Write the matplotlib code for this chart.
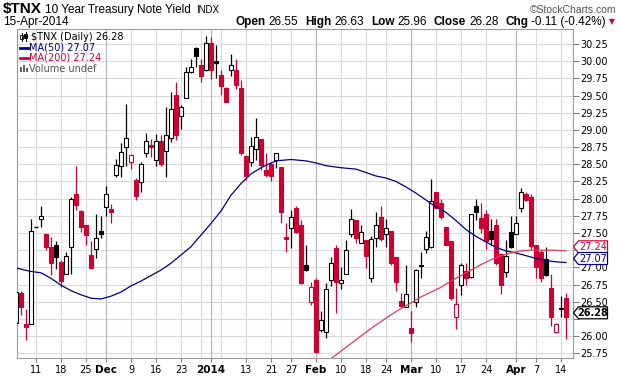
import numpy as np
import pandas as pd
import matplotlib
matplotlib.use("Agg")
import matplotlib.pyplot as plt
from matplotlib.patches import Rectangle, Polygon
from matplotlib.lines import Line2D
from matplotlib.transforms import IdentityTransform

# ---------------- data ----------------
start_date = "2013-11-05"
end_date = "2014-04-15"
holidays = ["2013-11-28", "2013-12-25", "2014-01-01", "2014-01-20", "2014-02-17"]

opens = [26.19, 26.62, 26.17, 26.18, 27.58, 27.70, 27.48, 27.30, 27.33, 27.08,
         26.91, 27.29, 28.07, 27.82, 27.61, 27.18, 27.26, 27.53, 27.88, 27.85,
         28.35, 28.48, 28.75, 28.53, 28.27, 28.24, 28.66, 28.78, 28.56, 28.84,
         28.69, 28.89, 29.51, 29.21, 29.47, 29.84, 30.20, 29.94, 29.88, 30.27,
         30.00, 29.80, 29.61, 29.87, 29.88, 29.61, 28.62, 28.54, 28.72, 28.87,
         28.42, 28.51, 28.57, 28.46, 27.44, 27.57, 27.86, 27.62, 27.04, 26.50,
         26.82, 26.09, 26.06, 26.81, 27.28, 26.77, 26.91, 27.49, 27.69, 27.36,
         27.40, 26.85, 27.42, 27.73, 27.49, 27.53, 27.15, 26.51, 26.42, 26.11,
         26.49, 27.04, 27.26, 27.30, 28.09, 27.93, 27.58, 27.38, 26.27, 26.75,
         26.95, 26.86, 27.89, 27.72, 27.78, 27.53, 27.62, 27.20, 26.93, 27.51,
         27.49, 27.86, 28.07, 28.02, 27.32, 27.22, 27.12, 26.70, 26.06, 26.41,
         26.55]
highs = [26.66, 26.65, 26.40, 27.70, 27.58, 27.89, 27.49, 27.44, 27.39, 27.11,
         27.22, 28.03, 28.47, 27.83, 27.62, 27.38, 27.77, 27.75, 28.19, 27.92,
         28.58, 28.81, 29.38, 28.65, 28.30, 28.54, 28.95, 28.87, 28.94, 28.93,
         29.34, 29.56, 29.70, 29.36, 29.92, 30.04, 30.21, 30.04, 30.37, 30.35,
         30.24, 29.87, 29.62, 30.11, 30.03, 29.73, 28.63, 28.90, 29.18, 28.87,
         28.67, 28.54, 28.67, 28.46, 27.65, 27.83, 27.89, 27.69, 27.33, 26.78,
         26.84, 26.36, 26.77, 27.15, 27.33, 27.00, 27.40, 27.85, 27.69, 27.62,
         27.40, 27.45, 27.81, 27.89, 27.70, 27.53, 27.15, 26.63, 27.03, 26.36,
         26.98, 27.23, 27.53, 28.28, 28.10, 27.99, 27.58, 27.38, 26.70, 27.06,
         27.06, 27.78, 28.00, 27.93, 27.84, 27.71, 27.71, 27.21, 27.40, 27.75,
         27.75, 28.15, 28.09, 28.07, 27.33, 27.25, 27.29, 26.90, 26.19, 26.58,
         26.63]
lows = [26.15, 26.31, 25.94, 26.18, 27.58, 27.58, 27.25, 26.89, 26.98, 26.72,
        26.90, 26.91, 27.83, 27.52, 27.33, 26.98, 27.14, 27.42, 27.75, 27.65,
        28.31, 28.32, 28.48, 28.43, 27.98, 28.10, 28.60, 28.61, 28.47, 28.47,
        28.31, 28.83, 28.85, 29.02, 29.47, 29.83, 29.92, 29.70, 29.86, 29.74,
        29.75, 29.51, 29.40, 29.78, 29.59, 28.63, 28.27, 28.47, 28.56, 28.42,
        28.32, 28.26, 28.44, 27.65, 27.22, 27.28, 27.50, 26.76, 26.95, 26.45,
        25.75, 26.06, 25.97, 26.73, 26.34, 26.69, 26.90, 27.44, 27.35, 27.36,
        26.99, 26.78, 27.30, 27.39, 27.30, 27.03, 26.66, 26.42, 26.42, 25.92,
        26.42, 26.84, 27.21, 27.28, 27.86, 27.70, 27.32, 26.53, 26.10, 26.60,
        26.74, 26.85, 27.69, 27.50, 27.26, 27.33, 27.03, 26.61, 26.86, 27.28,
        27.49, 27.81, 27.96, 27.26, 26.85, 26.79, 26.87, 26.14, 26.04, 26.28,
        25.96]
closes = [26.64, 26.42, 26.13, 27.53, 27.58, 27.75, 27.30, 27.07, 27.15, 26.80,
          27.17, 27.99, 27.91, 27.58, 27.47, 26.99, 27.42, 27.48, 28.07, 27.81,
          28.49, 28.68, 28.89, 28.64, 28.04, 28.51, 28.84, 28.75, 28.84, 28.50,
          28.92, 29.30, 28.93, 29.34, 29.85, 29.92, 30.07, 29.79, 30.26, 29.87,
          29.97, 29.64, 29.41, 29.95, 29.65, 28.67, 28.33, 28.76, 28.90, 28.49,
          28.34, 28.33, 28.67, 27.80, 27.41, 27.73, 27.52, 26.77, 26.96, 26.71,
          25.77, 26.24, 26.69, 27.07, 26.78, 26.82, 27.25, 27.70, 27.42, 27.52,
          27.16, 27.41, 27.61, 27.41, 27.57, 27.06, 26.79, 26.43, 26.61, 26.05,
          26.96, 27.02, 27.44, 27.97, 27.87, 27.73, 27.32, 26.55, 26.46, 27.04,
          26.85, 27.78, 27.81, 27.57, 27.39, 27.41, 27.06, 26.74, 27.17, 27.29,
          27.65, 28.10, 27.98, 27.31, 27.00, 26.85, 26.89, 26.28, 26.18, 26.39,
          26.28]

ma50_dates = ["2013-11-05", "2013-11-08", "2013-11-12", "2013-11-14", "2013-11-18",
              "2013-11-20", "2013-11-22", "2013-11-26", "2013-11-29", "2013-12-03",
              "2013-12-05", "2013-12-09", "2013-12-11", "2013-12-13", "2013-12-17",
              "2013-12-19", "2013-12-23", "2013-12-26", "2013-12-30", "2014-01-02",
              "2014-01-06", "2014-01-08", "2014-01-10", "2014-01-14", "2014-01-16",
              "2014-01-21", "2014-01-22", "2014-01-27", "2014-01-30", "2014-02-03",
              "2014-02-05", "2014-02-10", "2014-02-13", "2014-02-18", "2014-02-20",
              "2014-02-24", "2014-02-26", "2014-02-28", "2014-03-04", "2014-03-06",
              "2014-03-10", "2014-03-12", "2014-03-14", "2014-03-18", "2014-03-20",
              "2014-03-24", "2014-03-26", "2014-03-28", "2014-04-01", "2014-04-03",
              "2014-04-07", "2014-04-09", "2014-04-11", "2014-04-15"]
ma50_vals = [26.99, 26.94, 26.92, 26.84, 26.74, 26.66, 26.60, 26.55, 26.54, 26.58,
             26.64, 26.73, 26.80, 26.88, 26.96, 27.06, 27.18, 27.30, 27.47, 27.64,
             27.82, 28.05, 28.22, 28.36, 28.45, 28.52, 28.55, 28.57, 28.55, 28.52,
             28.48, 28.45, 28.43, 28.38, 28.33, 28.30, 28.25, 28.17, 28.08, 27.98,
             27.88, 27.80, 27.68, 27.55, 27.45, 27.37, 27.29, 27.24, 27.21, 27.17,
             27.13, 27.10, 27.08, 27.07]

ma200_dates = ["2014-02-05", "2014-02-06", "2014-02-10", "2014-02-12", "2014-02-14",
               "2014-02-19", "2014-02-21", "2014-02-25", "2014-02-27", "2014-03-03",
               "2014-03-05", "2014-03-07", "2014-03-11", "2014-03-13", "2014-03-17",
               "2014-03-19", "2014-03-21", "2014-03-25", "2014-03-27", "2014-03-31",
               "2014-04-02", "2014-04-04", "2014-04-08", "2014-04-10", "2014-04-15"]
ma200_vals = [25.60, 25.67, 25.78, 25.89, 26.00, 26.11, 26.21, 26.31, 26.40, 26.48,
              26.57, 26.64, 26.71, 26.80, 26.88, 26.96, 27.04, 27.11, 27.17, 27.21,
              27.24, 27.25, 27.25, 27.25, 27.24]

tick_dates = ["2013-11-11", "2013-11-18", "2013-11-25", "2013-12-02", "2013-12-09",
              "2013-12-16", "2013-12-23", "2014-01-02", "2014-01-13", "2014-01-21",
              "2014-01-27", "2014-02-03", "2014-02-10", "2014-02-18", "2014-02-24",
              "2014-03-03", "2014-03-10", "2014-03-17", "2014-03-24", "2014-04-01",
              "2014-04-07", "2014-04-14"]
tick_labels = ["11", "18", "25", "Dec", "9", "16", "23", "2014", "13", "21", "27",
               "Feb", "10", "18", "24", "Mar", "10", "17", "24", "Apr", "7", "14"]
month_labels = ["Dec", "2014", "Feb", "Mar", "Apr"]
extra_grid_dates = ["2013-12-30", "2014-01-06"]

y_ticks = [25.75, 26.00, 26.25, 26.50, 26.75, 27.00, 27.25, 27.50, 27.75, 28.00,
           28.25, 28.50, 28.75, 29.00, 29.25, 29.50, 29.75, 30.00, 30.25]
hidden_y_labels = [26.25, 27.25]   # covered by the value tags in the original

# ---------------- setup ----------------
W, H = 620, 376
RED = "#cc0033"
NAVY = "#000080"
MA200C = "#e03a5c"
GRID = "#dadada"
MGRID = "#b5b5b5"

days = pd.bdate_range(start_date, end_date)
days = days[~days.isin(pd.to_datetime(holidays))]
pos = {d: i for i, d in enumerate(days)}
def idx(s):
    return pos[pd.Timestamp(s)]

O = np.array(opens); Hh = np.array(highs); L = np.array(lows); C = np.array(closes)
n = len(C)
prev = np.r_[O[0], C[:-1]]

fig = plt.figure(figsize=(6.2, 3.76), dpi=100)
ax = fig.add_axes([17 / W, 1 - 358 / H, 556 / W, 329 / H])
ax.set_xlim(0.2, 111.4)
ax.set_ylim(25.68, 30.47)

# grid
for yv in y_ticks:
    ax.axhline(yv, color=GRID, lw=0.8, zorder=0)
for d, lab in zip(tick_dates, tick_labels):
    ax.axvline(idx(d), color=MGRID if lab in month_labels else GRID, lw=0.8, zorder=0)
for d in extra_grid_dates:
    ax.axvline(idx(d), color=GRID, lw=0.8, zorder=0)

# candles
bw = 0.84
for i in range(n):
    col = RED if C[i] < prev[i] else "black"
    hollow = C[i] > O[i]
    ax.plot([i, i], [L[i], Hh[i]], color=col, lw=0.9, zorder=2, solid_capstyle="butt")
    lo, hi = min(O[i], C[i]), max(O[i], C[i])
    if hi - lo < 0.012:
        ax.plot([i - bw / 2, i + bw / 2], [O[i], O[i]], color=col, lw=1.0, zorder=3,
                solid_capstyle="butt")
    else:
        ax.add_patch(Rectangle((i - bw / 2, lo), bw, hi - lo,
                               facecolor="white" if hollow else col,
                               edgecolor=col, lw=0.8, zorder=3))

# moving averages
ax.plot([idx(d) for d in ma50_dates], ma50_vals, color=NAVY, lw=0.9, zorder=4)
ax.plot([idx(d) for d in ma200_dates], ma200_vals, color=MA200C, lw=0.9, zorder=4)

# axes styling
for s in ax.spines.values():
    s.set_color("#9a9a9a"); s.set_linewidth(0.8)
ax.yaxis.tick_right()
ax.set_yticks(y_ticks)
ax.set_yticklabels(["" if v in hidden_y_labels else f"{v:.2f}" for v in y_ticks])
ax.tick_params(axis="y", length=4, width=0.7, color="#777", pad=1, labelsize=7)
ax.set_xticks([idx(d) for d in tick_dates])
ax.set_xticklabels(tick_labels)
ax.tick_params(axis="x", length=3, width=0.7, color="#777", pad=2, labelsize=7)
for t in ax.get_xticklabels():
    if t.get_text() in month_labels:
        t.set_fontweight("bold")
        t.set_fontsize(7.5)

# ---------------- header ----------------
def fx(x): return x / W
def fy(y): return 1 - y / H

renderer = fig.canvas.get_renderer()
def row(parts, y, left=None, right=None):
    objs = []
    for s, gap, kw in parts:
        objs.append((fig.text(0, fy(y), s, va="baseline", **kw), gap))
    widths = [t.get_window_extent(renderer).width for t, g in objs]
    total = sum(widths) + sum(g for t, g in objs)
    x = left if left is not None else right - total
    for (t, g), w in zip(objs, widths):
        t.set_x(fx(x)); x += w + g

LS = "Liberation Sans"
row([("$TNX", 3, dict(fontsize=11, fontweight="bold", family=LS)),
     ("10 Year Treasury Note Yield", 5, dict(fontsize=8.5, family=LS)),
     ("INDX", 0, dict(fontsize=7, family=LS))], 13, left=3)
fig.text(fx(616), fy(13), "\u00a9StockCharts.com", ha="right", va="baseline",
         fontsize=7.5, family=LS, color="#555555")
fig.text(fx(3), fy(25), "15-Apr-2014", va="baseline", fontsize=8.5, family=LS)
b = dict(fontsize=8.5, fontweight="bold", family=LS)
nb = dict(fontsize=8.5, family=LS)
row([("Open", 3, b), ("26.55", 7, nb), ("High", 3, b), ("26.63", 7, nb),
     ("Low", 3, b), ("25.96", 7, nb), ("Close", 3, b), ("26.28", 7, nb),
     ("Chg", 3, b), ("-0.11 (-0.42%)", 0, nb)], 25, right=606)
fig.text(fx(612), fy(21.5), "\u25bc", ha="center", va="center", fontsize=5.5,
         color=RED, family="DejaVu Sans")

# ---------------- legend ----------------
lf = dict(fontsize=7, family="DejaVu Sans", va="center")
for xx, y0, y1, b0, b1, fill in [(21.5, 33, 41, 35, 39, "white"), (25.5, 32, 41, 34, 38, "black")]:
    fig.add_artist(Line2D([fx(xx), fx(xx)], [fy(y1), fy(y0)], color="black", lw=0.7))
    fig.add_artist(Rectangle((fx(xx - 1.3), fy(b1)), 2.6 / W, (b1 - b0) / H,
                             facecolor=fill, edgecolor="black", lw=0.6))
fig.text(fx(31), fy(37), "$TNX (Daily) 26.28", color="black", **lf)
fig.add_artist(Line2D([fx(20), fx(28)], [fy(47.5), fy(47.5)], color=NAVY, lw=2))
fig.text(fx(29), fy(47.5), "MA(50) 27.07", color=NAVY, **lf)
fig.add_artist(Line2D([fx(20), fx(28)], [fy(58), fy(58)], color=RED, lw=2))
fig.text(fx(29), fy(58), "MA(200) 27.24", color=RED, **lf)
for k, hgt in enumerate([5, 7, 4]):
    fig.add_artist(Rectangle((fx(20 + k * 2.8), fy(72)), 2.2 / W, hgt / H,
                             facecolor="#666666", edgecolor="none"))
fig.text(fx(29), fy(68.5), "Volume undef", color="#555555", **lf)

# ---------------- right value tags ----------------
def tag(val, color, text, bold=False):
    yd = ax.transData.transform((0, val))[1] + 4
    x0 = 573.5; x1 = 607.5; hh = 6.0
    poly = Polygon([(x0, yd), (x0 + 5, yd + hh), (x1, yd + hh), (x1, yd - hh), (x0 + 5, yd - hh)],
                   closed=True, facecolor="white", edgecolor=color, lw=0.9,
                   transform=IdentityTransform())
    fig.add_artist(poly)
    fig.text((x0 + x1 + 5) / 2 / W, yd / H, text, ha="center", va="center",
             fontsize=7, color=color, family="DejaVu Sans",
             fontweight="bold" if bold else "normal")

tag(27.24, RED, "27.24")
tag(27.07, NAVY, "27.07")
tag(C[-1], "black", f"{C[-1]:.2f}", bold=True)

fig.savefig("out.png", dpi=100)
